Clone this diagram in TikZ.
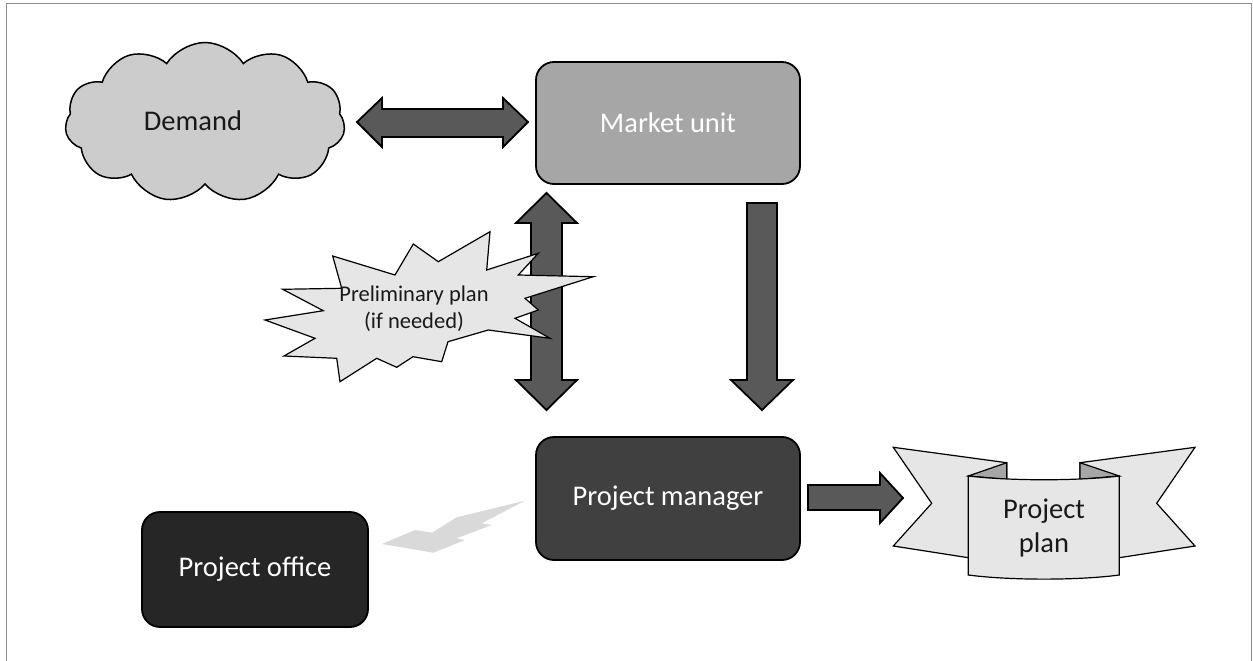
\documentclass[tikz,border=0pt]{standalone}
\usepackage{fontspec}
\setmainfont{Carlito}
\usetikzlibrary{shapes.symbols}
\definecolor{arrowgray}{HTML}{595959}
\definecolor{marketgray}{HTML}{A6A6A6}
\definecolor{pmgray}{HTML}{404040}
\definecolor{pogray}{HTML}{262626}
\definecolor{cloudgray}{HTML}{CCCCCC}
\definecolor{lightfill}{HTML}{E6E6E6}
\definecolor{boltgray}{HTML}{D9D9D9}
\definecolor{framegray}{HTML}{8C8C8C}
\tikzset{
  box/.style={draw=black, line width=1.8pt, rounded corners=18pt, inner sep=0pt,
    text=white, font=\fontsize{28.5}{34}\selectfont},
  blockarrow/.style={draw=black, line width=1.8pt, fill=arrowgray, line join=miter},
  lighttext/.style={font=\fontsize{28.5}{34}\selectfont, text=black!90},
  ribbonpart/.style={draw=black, line width=1.2pt, fill=lightfill, line join=miter},
  ribbonfold/.style={draw=black, line width=1.2pt, fill=marketgray, line join=miter},
}
\begin{document}
\begin{tikzpicture}[x=1pt,y=-1pt]
\useasboundingbox (0,0) rectangle (1253,661);
% frame
\draw[framegray, line width=1pt] (6,661) -- (6,4) -- (1251,4) -- (1251,661);

% cloud
\node[cloud, cloud puffs=11, cloud puff arc=115, aspect=1.8, draw=black, line width=1.5pt,
  fill=cloudgray, minimum width=280pt, minimum height=160pt, inner sep=0pt] (cloud) at (205,122.5) {};
\node[lighttext] (demandtxt) at (193,121) {Demand};

% boxes
\node[box, fill=marketgray, minimum width=264pt, minimum height=122pt] (market) at (668,123) {Market unit};
\node[box, fill=pmgray, minimum width=264pt, minimum height=123pt] (pm) at (668,498.5) {Project manager};
\node[box, fill=pogray, minimum width=226pt, minimum height=115pt] (po) at (255,569.5) {Project office};

% horizontal double arrow (cloud <-> market)
\draw[blockarrow] (357,122) -- (382,98) -- (382,109) -- (503,109) -- (503,98) -- (528,122)
  -- (503,147) -- (503,137) -- (382,137) -- (382,147) -- cycle;

% vertical double arrow (market <-> pm)
\draw[blockarrow] (546.5,193) -- (577,223) -- (562,223) -- (562,380) -- (577,380) -- (546.5,410)
  -- (516,380) -- (531,380) -- (531,223) -- (516,223) -- cycle;

% down arrow (market -> pm)
\draw[blockarrow] (747,203) -- (777,203) -- (777,380) -- (793,380) -- (762,410) -- (731,380)
  -- (747,380) -- cycle;

% right arrow (pm -> plan)
\draw[blockarrow] (808,485) -- (880,485) -- (880,473) -- (903,498) -- (880,523) -- (880,510)
  -- (808,510) -- cycle;

% lightning bolt (po - pm)
\fill[boltgray] (382,544) -- (415,530) -- (432,532.7) -- (456.7,517.3) -- (525,500.7)
  -- (481.7,523.3) -- (491.7,525) -- (456.7,538.3) -- (465,540) -- (433.3,552.7) -- cycle;

% starburst
\draw[draw=black, line width=1.2pt, fill=lightfill, line join=miter]
  (265,320) -- (323.3,310.7) -- (282.7,289.3) -- (341.7,288.3) -- (332.7,256) -- (395,275)
  -- (413.3,244) -- (438.3,261.7) -- (490,231.7) -- (486.7,270) -- (538.3,253.3) -- (518.3,275)
  -- (593.3,276.7) -- (525,298.3) -- (538.3,310) -- (515,318.3) -- (550,338.3) -- (488.3,330)
  -- (448,341.7) -- (441.7,361.7) -- (413,356.7) -- (396.7,367.3) -- (376.7,358.3) -- (340,381.7)
  -- (336.7,358.3) -- (284,356) -- (315,338.3) -- cycle;
\node[align=center, font=\fontsize{22.5}{27}\selectfont, text=black!90] (prelim) at (414,309)
  {Preliminary plan\\(if needed)};

% ribbon (project plan)
\draw[ribbonpart] (893.3,447.3) -- (1006.7,462.7) -- (1006.7,556) -- (968.3,557.7)
  -- (893.3,546) -- (931.7,503.3) -- cycle;
\draw[ribbonpart] (1195,447.3) -- (1080,462.7) -- (1080,556) -- (1119.3,557.7)
  -- (1195,546) -- (1156.7,503.3) -- cycle;
\draw[ribbonfold] (968.3,476) -- (1006.7,462.7) -- (1006.7,479.3) -- cycle;
\draw[ribbonfold] (1119.3,476) -- (1080,462.7) -- (1080,479.3) -- cycle;
\draw[ribbonpart] (968.3,476) .. controls (1010,481) and (1078,481) .. (1119.3,476)
  -- (1119.3,575) .. controls (1078,580.5) and (1010,580.5) .. (968.3,575) -- cycle;
\node[align=center, font=\fontsize{28.5}{34}\selectfont, text=black!90] (plan) at (1044,528)
  {Project\\plan};
\end{tikzpicture}
\end{document}
